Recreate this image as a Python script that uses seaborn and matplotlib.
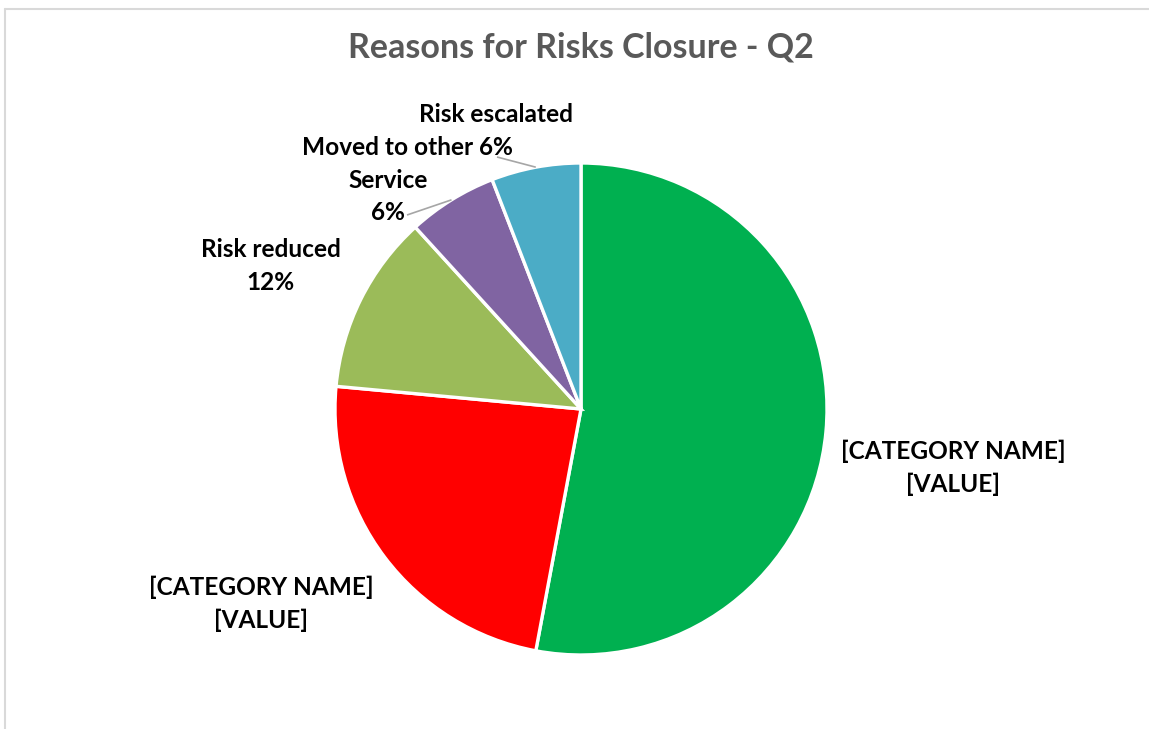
import numpy as np
import matplotlib
matplotlib.use("Agg")
import matplotlib.pyplot as plt
import seaborn as sns
from matplotlib.lines import Line2D

# ---- data ----
categories = ["Resolved", "Accepted", "Risk reduced", "Moved to other\nService", "Risk escalated"]
values = [9, 4, 2, 1, 1]
label_texts = ["[CATEGORY NAME]\n[VALUE]", "[CATEGORY NAME]\n[VALUE]",
               "Risk reduced\n12%", "Moved to other\nService\n6%", "Risk escalated\n6%"]
colors = ["#00B050", "#FF0000", "#9BBB59", "#8064A2", "#4BACC6"]
title = "Reasons for Risks Closure - Q2"

# ---- layout (pixel space, origin bottom-left) ----
W, H = 1149, 729
cx, cy, R = 581, H - 409, 246
label_pos = [(953, H - 468), (261, H - 604), (271, H - 266), (388, H - 180), (496, H - 131)]
line_gap = 32.5
leader_start = {3: (407, H - 215), 4: (497, H - 157)}

sns.set_theme(style="white")
plt.rcParams['font.family'] = ['Lato', 'DejaVu Sans']

fig = plt.figure(figsize=(W / 100, H / 100), dpi=100)
ax = fig.add_axes([0, 0, 1, 1])
ax.set_xlim(0, W)
ax.set_ylim(0, H)
ax.set_aspect('equal')
ax.axis('off')

wedges, _ = ax.pie(values, colors=colors, startangle=90, counterclock=False,
                   center=(cx, cy), radius=R,
                   wedgeprops=dict(edgecolor='white', linewidth=2.4))
ax.set_xlim(0, W)
ax.set_ylim(0, H)

for txt, (x, y) in zip(label_texts, label_pos):
    lines = txt.split("\n")
    n = len(lines)
    for k, line in enumerate(lines):
        yy = y + (n - 1) / 2 * line_gap - k * line_gap
        ax.text(x, yy, line, ha='center', va='center', fontsize=17.6,
                fontweight='bold', color='black')

for i, (sx, sy) in leader_start.items():
    w = wedges[i]
    mid = np.deg2rad((w.theta1 + w.theta2) / 2)
    ex, ey = cx + R * np.cos(mid), cy + R * np.sin(mid)
    ax.plot([sx, ex], [sy, ey], color='#A6A6A6', lw=1.2, solid_capstyle='butt')

ax.text(581, H - 47, title, ha='center', va='center', fontsize=24.5, fontweight='bold',
        color='#595959')

# chart border (top and left visible)
fig.add_artist(Line2D([5 / W, 1], [1 - 9 / H, 1 - 9 / H], transform=fig.transFigure,
                      color='#D9D9D9', lw=1.5))
fig.add_artist(Line2D([5 / W, 5 / W], [0, 1 - 9 / H], transform=fig.transFigure,
                      color='#D9D9D9', lw=1.5))

fig.savefig("out.png", dpi=100, facecolor='white')
